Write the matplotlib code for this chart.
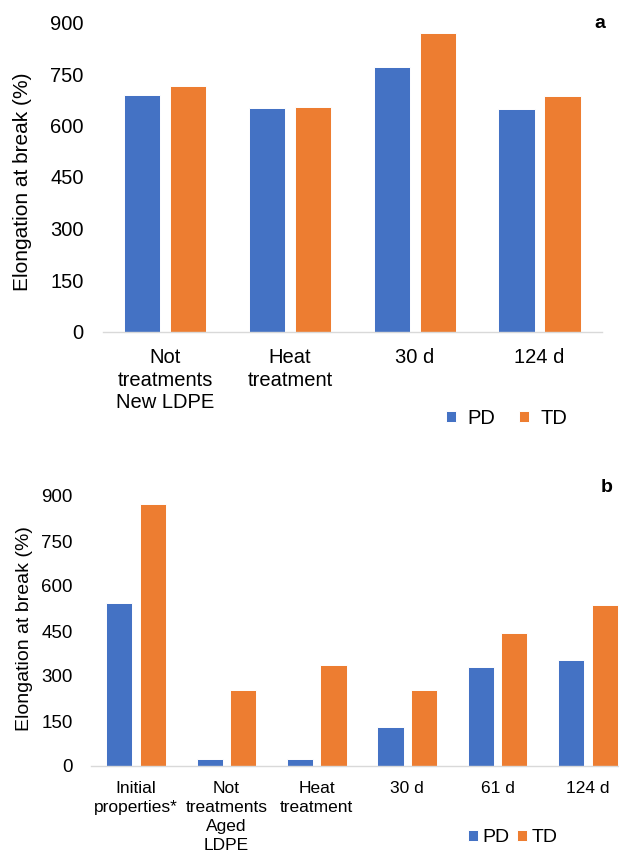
import numpy as np
import matplotlib.pyplot as plt

plt.rcParams['font.family'] = ['Liberation Sans', 'DejaVu Sans']

# data
cats_a = ['Not\ntreatments\nNew LDPE', 'Heat\ntreatment', '30 d', '124 d']
pd_a = [689, 650, 771, 648]
td_a = [715, 653, 869, 685]

cats_b = ['Initial\nproperties*', 'Not\ntreatments\nAged\nLDPE', 'Heat\ntreatment',
          '30 d', '61 d', '124 d']
pd_b = [542, 22, 22, 131, 330, 353]
td_b = [873, 254, 336, 254, 442, 537]

yticks = [0, 150, 300, 450, 600, 750, 900]
blue = '#4472C4'
orange = '#ED7D31'
W, H = 619, 856

fig = plt.figure(figsize=(6.19, 8.56), dpi=100)


def panel(rect, cats, pd_vals, td_vals, tsize, xsize, ypad, xpad, lsp):
    ax = fig.add_axes(rect)
    x = np.arange(len(cats))
    b1 = ax.bar(x - 0.184, pd_vals, 0.29, color=blue, edgecolor='white', linewidth=0.7, label='PD')
    b2 = ax.bar(x + 0.184, td_vals, 0.29, color=orange, edgecolor='white', linewidth=0.7, label='TD')
    ax.set_xlim(-0.5, len(cats) - 0.5)
    ax.set_ylim(0, 900)
    ax.set_yticks(yticks)
    ax.set_xticks(x)
    ax.set_xticklabels(cats, fontsize=xsize, color='#000000', linespacing=lsp)
    ax.tick_params(axis='y', length=0, pad=ypad, labelsize=tsize)
    ax.tick_params(axis='x', length=0, pad=xpad)
    for s in ['top', 'right', 'left']:
        ax.spines[s].set_visible(False)
    ax.spines['bottom'].set_color('#D9D9D9')
    ax.spines['bottom'].set_linewidth(1.0)
    return ax, b1, b2


# panel a
ax_a, a1, a2 = panel([102.6 / W, 1 - 331.5 / H, 499.4 / W, 309 / H],
                     cats_a, pd_a, td_a, 14.5, 14.5, 13.5, 12, 1.23)
fig.text(23 / W, 1 - 182 / H, 'Elongation at break (%)', rotation=90,
         ha='center', va='center', fontsize=15)
fig.text(600 / W, 1 - 24 / H, 'a', fontsize=14, fontweight='bold', ha='center', va='center')
fig.legend([a1, a2], ['PD', 'TD'], loc='center left', bbox_to_anchor=(446 / W, 1 - 418 / H),
           ncol=2, frameon=False, fontsize=14.5, handlelength=0.5, handleheight=0.5,
           handletextpad=0.55, columnspacing=1.2, borderpad=0, borderaxespad=0)

# panel b
ax_b, c1, c2 = panel([90.8 / W, 1 - 766 / H, 542.4 / W, 270 / H],
                     cats_b, pd_b, td_b, 13.5, 12.5, 13, 10.5, 1.35)
fig.text(24.5 / W, 1 - 629 / H, 'Elongation at break (%)', rotation=90,
         ha='center', va='center', fontsize=14)
fig.text(607 / W, 1 - 487 / H, 'b', fontsize=14, fontweight='bold', ha='center', va='center')
fig.legend([c1, c2], ['PD', 'TD'], loc='center left', bbox_to_anchor=(468 / W, 1 - 838 / H),
           ncol=2, frameon=False, fontsize=14, handlelength=0.5, handleheight=0.5,
           handletextpad=0.25, columnspacing=0.4, borderpad=0, borderaxespad=0)

plt.savefig('out.png', dpi=100)
